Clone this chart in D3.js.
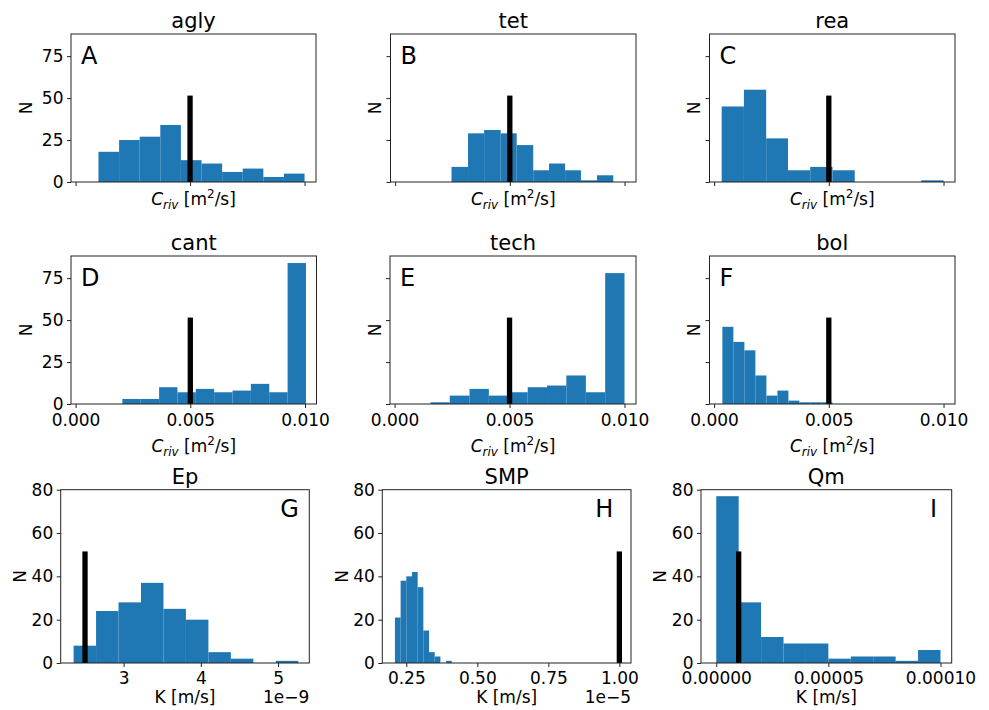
<!DOCTYPE html>
<html>
<head>
<meta charset="utf-8">
<script src="https://cdn.jsdelivr.net/npm/d3@7"></script>
<style>
  body { margin: 0; background: #fff; }
  text { font-family: "DejaVu Sans", sans-serif; fill: #000; }
</style>
</head>
<body>
<div id="chart"></div>
<script>
// --- data -----------------------------------------------------------------
var titles  = ["agly", "tet", "rea", "cant", "tech", "bol", "Ep", "SMP", "Qm"];
var letters = ["A", "B", "C", "D", "E", "F", "G", "H", "I"];

// histogram bin edges (11 per panel) and counts (10 per panel)
var aglyEdges  = [0.0010, 0.0019, 0.0028, 0.0037, 0.0046, 0.0055, 0.0064, 0.0073, 0.0082, 0.0091, 0.0100];
var aglyCounts = [18, 25, 27, 34, 13, 11, 6, 8, 3, 5];
var tetEdges   = [0.00246, 0.00318, 0.00388, 0.00460, 0.00530, 0.00602, 0.00671, 0.00741, 0.00810, 0.00880, 0.00951];
var tetCounts  = [9, 29, 31, 29, 22, 7, 11, 7, 1, 4];
var reaEdges   = [0.00033, 0.00130, 0.00227, 0.00322, 0.00419, 0.00516, 0.00613, 0.00710, 0.00806, 0.00903, 0.01000];
var reaCounts  = [45, 55, 26, 7, 9, 7, 0, 0, 0, 1];
var cantEdges  = [0.00204, 0.00284, 0.00364, 0.00444, 0.00524, 0.00604, 0.00684, 0.00764, 0.00844, 0.00924, 0.01004];
var cantCounts = [3, 3, 10, 7, 9, 7, 8, 12, 7, 84];
var techEdges  = [0.00156, 0.00240, 0.00326, 0.00410, 0.00493, 0.00579, 0.00663, 0.00747, 0.00832, 0.00916, 0.01000];
var techCounts = [1, 5, 9, 5, 7, 10, 11, 17, 7, 78];
var bolEdges   = [0.00036, 0.00084, 0.00132, 0.00180, 0.00228, 0.00276, 0.00324, 0.00372, 0.00420, 0.00468, 0.00516];
var bolCounts  = [46, 37, 32, 17, 5, 8, 2, 1, 1, 1];
var epEdges    = [2.352e-9, 2.643e-9, 2.934e-9, 3.225e-9, 3.516e-9, 3.807e-9, 4.098e-9, 4.389e-9, 4.680e-9, 4.971e-9, 5.262e-9];
var epCounts   = [8, 24, 28, 37, 25, 20, 5, 2, 0, 1];
var smpEdges   = [0.210e-5, 0.230e-5, 0.250e-5, 0.270e-5, 0.290e-5, 0.310e-5, 0.330e-5, 0.350e-5, 0.370e-5, 0.390e-5, 0.410e-5];
var smpCounts  = [21, 38, 40, 42, 35, 15, 5, 3, 0, 1];
var qmEdges    = [0, 1e-5, 2e-5, 3e-5, 4e-5, 5e-5, 6e-5, 7e-5, 8e-5, 9e-5, 10e-5];
var qmCounts   = [77, 28, 12, 9, 9, 2, 3, 3, 1, 6];

// reference value drawn as a black vertical bar
var refValues = [0.005, 0.005, 0.005, 0.005, 0.005, 0.005, 2.5e-9, 1.0e-5, 1.0e-5];
var refHeight = 51.5;

// ticks
var crivTicks      = [0, 0.005, 0.010];
var crivTickLabels = ["0.000", "0.005", "0.010"];
var nTicksTop      = [0, 25, 50, 75];
var nTicksBottom   = [0, 20, 40, 60, 80];
var epTicks        = [3e-9, 4e-9, 5e-9];
var epTickLabels   = ["3", "4", "5"];
var smpTicks       = [0.25e-5, 0.50e-5, 0.75e-5, 1.00e-5];
var smpTickLabels  = ["0.25", "0.50", "0.75", "1.00"];
var qmTicks        = [0, 5e-5, 10e-5];
var qmTickLabels   = ["0.00000", "0.00005", "0.00010"];

var allEdges  = [aglyEdges, tetEdges, reaEdges, cantEdges, techEdges, bolEdges, epEdges, smpEdges, qmEdges];
var allCounts = [aglyCounts, tetCounts, reaCounts, cantCounts, techCounts, bolCounts, epCounts, smpCounts, qmCounts];

// --- layout -----------------------------------------------------------------
var W = 989, H = 710;
var blue = "#1f77b4";
var rowY = [[34, 182], [256, 404], [489.7, 663]];
var colX = [
  [[71, 316], [390.5, 636], [709.5, 955]],
  [[71, 316.5], [390, 636], [709.5, 955]],
  [[60.7, 309.3], [382.3, 631], [701, 951.7]]
];
var crivDomain = [-0.0002, 0.0105];
var row3Domains = [[2.185e-9, 5.405e-9], [0.1655e-5, 1.041e-5], [-0.0000068, 0.000105]];
var row3Ticks = [[epTicks, epTickLabels, "1e\u22129"], [smpTicks, smpTickLabels, "1e\u22125"], [qmTicks, qmTickLabels, null]];
var row3LetterX = [219.5, 213, 229];

var svg = d3.select("#chart").append("svg")
  .attr("width", W).attr("height", H)
  .style("display", "block");

function criv(sel) {
  sel.append("tspan").attr("font-style", "italic").text("C");
  sel.append("tspan").attr("font-style", "italic").attr("font-size", "12px").attr("dy", 4).text("riv");
  sel.append("tspan").attr("dy", -4).text("\u00a0[m");
  sel.append("tspan").attr("font-size", "12px").attr("dy", -7).text("2");
  sel.append("tspan").attr("dy", 7).text("/s]");
}

for (var i = 0; i < 9; i++) {
  var r = Math.floor(i / 3), c = i % 3;
  var x0 = colX[r][c][0], x1 = colX[r][c][1];
  var y0 = rowY[r][0], y1 = rowY[r][1];
  var g = svg.append("g");

  var x = d3.scaleLinear().domain(r < 2 ? crivDomain : row3Domains[c]).range([x0, x1]);
  var y = d3.scaleLinear().domain(r < 2 ? [0, 88.2] : [0, 80]).range([y1, y0]);

  // bars
  var edges = allEdges[i];
  var bins = allCounts[i].map(function (n, k) { return {a: edges[k], b: edges[k + 1], n: n}; })
    .filter(function (d) { return d.n > 0; });
  g.selectAll("rect.bar").data(bins).enter().append("rect")
    .attr("class", "bar")
    .attr("x", function (d) { return x(d.a); })
    .attr("width", function (d) { return x(d.b) - x(d.a); })
    .attr("y", function (d) { return y(d.n); })
    .attr("height", function (d) { return y(0) - y(d.n); })
    .attr("fill", blue);

  // reference line
  g.append("line")
    .attr("x1", x(refValues[i])).attr("x2", x(refValues[i]))
    .attr("y1", y(0)).attr("y2", y(refHeight))
    .attr("stroke", "#000").attr("stroke-width", 5.3);

  // axes
  var xa = d3.axisBottom(x).tickSizeOuter(0).tickSize(4).tickPadding(r === 2 ? 4.5 : 6);
  if (r < 2) {
    xa.tickValues(crivTicks).tickFormat(function (d, k) { return r === 1 ? crivTickLabels[k] : ""; });
  } else {
    xa.tickValues(row3Ticks[c][0]).tickFormat(function (d, k) { return row3Ticks[c][1][k]; });
  }
  var ya = d3.axisLeft(y).tickSizeOuter(0).tickSize(4).tickPadding(3.5)
    .tickValues(r < 2 ? nTicksTop : nTicksBottom)
    .tickFormat(function (d) { return (r === 2 || c === 0) ? d : ""; });

  var gx = g.append("g").attr("transform", "translate(0," + y1 + ")").call(xa);
  var gy = g.append("g").attr("transform", "translate(" + x0 + ",0)").call(ya);
  [gx, gy].forEach(function (a) {
    a.select(".domain").remove();
    a.selectAll("line").attr("stroke", "#222");
    a.selectAll("text").attr("font-size", "17px").attr("fill", "#000")
      .style("font-family", "'DejaVu Sans', sans-serif");
  });

  // frame
  g.append("rect")
    .attr("x", x0).attr("y", y0).attr("width", x1 - x0).attr("height", y1 - y0)
    .attr("fill", "none").attr("stroke", "#222").attr("stroke-width", 1);

  // title
  g.append("text").attr("x", (x0 + x1) / 2).attr("y", y0 - 6)
    .attr("text-anchor", "middle").attr("font-size", "21px").text(titles[i]);

  // panel letter
  if (r < 2) {
    g.append("text").attr("x", x0 + 10).attr("y", y0 + 30).attr("font-size", "24px").text(letters[i]);
  } else {
    g.append("text").attr("x", x0 + row3LetterX[c]).attr("y", y0 + 27.5).attr("font-size", "24px").text(letters[i]);
  }

  // y label
  var nOff = (r === 2) ? 34.7 : (c === 0 ? 39 : 9.5);
  g.append("text")
    .attr("transform", "translate(" + (x0 - nOff) + "," + ((y0 + y1) / 2) + ") rotate(-90)")
    .attr("text-anchor", "middle").attr("font-size", "17px").text("N");

  // x label
  if (r < 2) {
    var lab = g.append("text").attr("x", (x0 + x1) / 2).attr("y", r === 0 ? y1 + 23 : y1 + 48)
      .attr("text-anchor", "middle").attr("font-size", "17px");
    criv(lab);
  } else {
    g.append("text").attr("x", (x0 + x1) / 2).attr("y", y1 + 40)
      .attr("text-anchor", "middle").attr("font-size", "17px").text("K [m/s]");
    if (row3Ticks[c][2]) {
      g.append("text").attr("x", x1).attr("y", y1 + 40)
        .attr("text-anchor", "end").attr("font-size", "17px").text(row3Ticks[c][2]);
    }
  }
}
</script>
</body>
</html>
